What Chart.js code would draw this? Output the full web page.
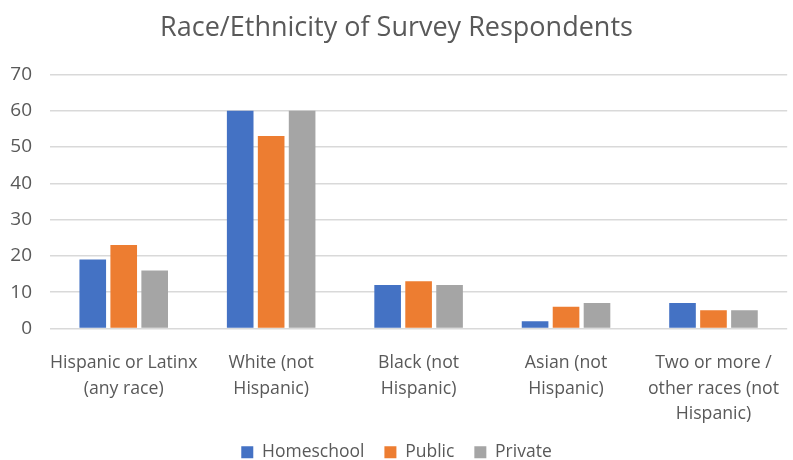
<!DOCTYPE html>
<html>
<head>
<meta charset="utf-8">
<script src="https://cdn.jsdelivr.net/npm/chart.js@4/dist/chart.umd.min.js"></script>
<style>
  html, body { margin: 0; padding: 0; background: #ffffff; }
  #wrap { width: 793px; height: 460px; }
</style>
</head>
<body>
<div id="wrap"><canvas id="chart-race"></canvas></div>
<script>
const categories = [
    ['Hispanic or Latinx', '(any race)'],
    ['White (not', 'Hispanic)'],
    ['Black (not', 'Hispanic)'],
    ['Asian (not', 'Hispanic)'],
    ['Two or more /', 'other races (not', 'Hispanic)']
]
const homeschool = [19, 60, 12, 2, 7]
const publicSchool = [23, 53, 13, 6, 5]
const privateSchool = [16, 60, 12, 7, 5]
const yTicks = [0, 10, 20, 30, 40, 50, 60, 70]

const fontFamily = '"Open Sans", sans-serif'
const textColor = '#595959'

const chartContext = document.getElementById('chart-race').getContext('2d')

new Chart(chartContext, {
    type: 'bar',
    data: {
        labels: categories,
        datasets: [
            { label: 'Homeschool', data: homeschool, backgroundColor: '#4472C4' },
            { label: 'Public', data: publicSchool, backgroundColor: '#ED7D31' },
            { label: 'Private', data: privateSchool, backgroundColor: '#A5A5A5' }
        ]
    },
    options: {
        responsive: true,
        maintainAspectRatio: false,
        animation: false,
        categoryPercentage: 0.63,
        barPercentage: 0.86,
        // negative bottom pushes the legend down close to the edge like the original
        layout: { padding: { left: 0, right: 0, top: 10, bottom: -11 } },
        scales: {
            x: {
                grid: { display: false },
                border: { display: false },
                afterFit: (axis) => { axis.height = 95 },
                ticks: {
                    color: textColor,
                    padding: 14,
                    font: { family: fontFamily, size: 17.7, lineHeight: 1.44 },
                    maxRotation: 0,
                    autoSkip: false
                }
            },
            y: {
                min: 0,
                max: 70,
                afterBuildTicks: (axis) => { axis.ticks = yTicks.map(v => ({ value: v })) },
                afterFit: (axis) => { axis.width = 50 },
                grid: { color: '#d9d9d9', lineWidth: 1.5, drawTicks: false },
                border: { display: false },
                ticks: {
                    color: textColor,
                    padding: 18,
                    font: { family: fontFamily, size: 19 }
                }
            }
        },
        plugins: {
            title: {
                display: true,
                text: 'Race/Ethnicity of Survey Respondents',
                color: textColor,
                font: { family: fontFamily, size: 27, weight: 'normal' },
                padding: { top: 2, bottom: 30 }
            },
            legend: {
                position: 'bottom',
                labels: {
                    color: textColor,
                    font: { family: fontFamily, size: 17.5 },
                    boxWidth: 12,
                    boxHeight: 12,
                    padding: 20
                }
            },
            tooltip: { enabled: false }
        }
    }
})
</script>
</body>
</html>
